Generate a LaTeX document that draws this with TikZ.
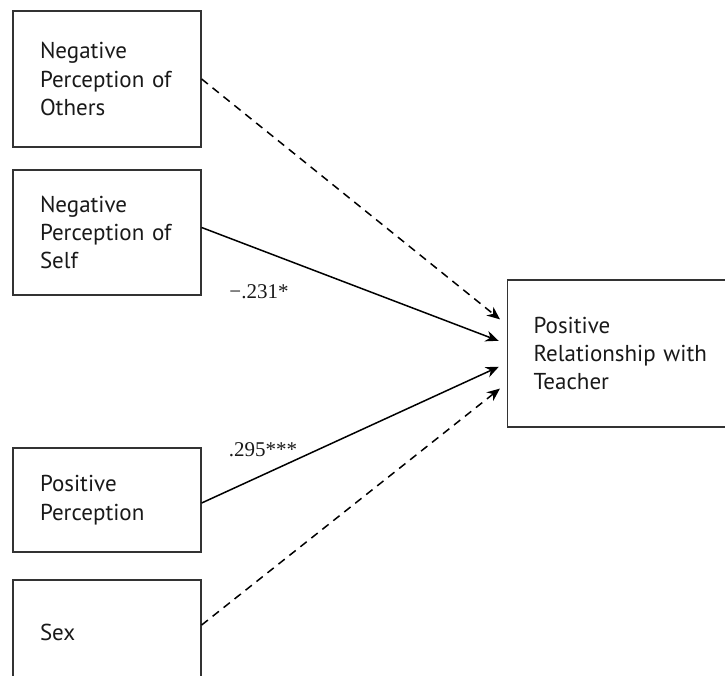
\documentclass[tikz,border=0pt]{standalone}
\usepackage{fontspec}
\setmainfont{PT Sans}
\newfontfamily\coeffont{Liberation Serif}
\usepackage{tikz}
\usetikzlibrary{arrows.meta,positioning}

\begin{document}
\begin{tikzpicture}[x=0.5pt, y=-0.5pt,
    varbox/.style={draw=black!80, line width=0.65pt, minimum width=94pt, inner xsep=13.5pt,
        text width=67pt, align=left, font=\fontsize{11.5}{14.2}\selectfont, text=black!90},
    path/.style={line width=0.75pt, -{Stealth[length=6.5pt, width=5.5pt]}, shorten >=4.5pt},
    coef/.style={font=\coeffont\fontsize{10.5}{12}\selectfont, text=black!90}]
        \useasboundingbox (0,0) rectangle (725,676);
        \clip (0,0) rectangle (725,676);
        %%Predictors
        \node[varbox, minimum height=68pt] (others) at (107,79) {Negative\\Perception of\\Others};
        \node[varbox, minimum height=62.5pt] (self) at (107,232.5) {Negative\\Perception of\\Self};
        \node[varbox, minimum height=52pt] (posperc) at (107,500) {Positive\\Perception};
        \node[varbox, minimum height=52pt] (sex) at (107,632) {Sex};
        %%Outcome
        \node[varbox, anchor=west, minimum width=120pt, text width=94pt, inner xsep=13pt,
            minimum height=73.5pt] (teacher) at (507,353.5) {Positive\\Relationship with\\Teacher};
        %%Paths
        \draw[path, dashed, dash pattern=on 4pt off 3pt] (others.east) to ([yshift=14.25pt]teacher.west);
        \draw[path] ([yshift=2.5pt]self.east) to ([yshift=4.75pt]teacher.west);
        \draw[path] ([yshift=-1.5pt]posperc.east) to ([yshift=-4.75pt]teacher.west);
        \draw[path, dashed, dash pattern=on 4pt off 3pt] ([yshift=3.5pt]sex.east) to ([yshift=-14.75pt]teacher.west);
        %%Coefficients
        \node[coef] (cself) at (259,292) {−.231*};
        \node[coef] (cpos) at (263,450) {.295***};
\end{tikzpicture}
\end{document}
